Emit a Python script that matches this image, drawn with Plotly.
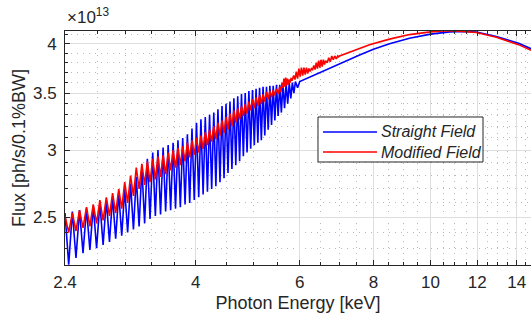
import math
import plotly.graph_objects as go

# ---------------- axis ticks ----------------
x_tick_vals = [2.4, 4, 6, 8, 10, 12, 14]
x_tick_text = ["2.4", "4", "6", "8", "10", "12", "14"]
x_minor_vals = [2.72, 3.04, 3.36, 3.68, 4.5, 5, 5.5, 6.5, 7, 7.5, 8.5, 9, 9.5,
                10.5, 11, 11.5, 12.5, 13, 13.5, 14.5]
y_tick_vals = [2.5, 3, 3.5, 4]
y_tick_text = ["2.5", "3", "3.5", "4"]
y_minor_vals = [2.2, 2.3, 2.4, 2.6, 2.7, 2.8, 2.9, 3.1, 3.2, 3.3, 3.4,
                3.6, 3.7, 3.8, 3.9, 4.1]

# ---------------- Straight Field (blue), flux in 1e13 ph/s/0.1%BW ----------------
blue_tooth_kev = [2.40, 2.47, 2.54, 2.61, 2.68, 2.75, 2.82, 2.89, 2.96, 3.03,
                  3.10, 3.17, 3.24, 3.31, 3.38, 3.45, 3.52, 3.59, 3.66, 3.73,
                  3.80, 3.87, 3.94, 4.01, 4.08, 4.15, 4.22, 4.29, 4.36, 4.43,
                  4.50, 4.57, 4.64, 4.71, 4.78, 4.85, 4.92, 4.99, 5.06, 5.13,
                  5.20, 5.27, 5.34, 5.41, 5.48, 5.55, 5.62, 5.69, 5.76, 5.83, 5.90]
blue_tooth_top = [2.53, 2.54, 2.55, 2.56, 2.58, 2.60, 2.62, 2.64, 2.67, 2.70,
                  2.74, 2.79, 2.86, 2.93, 2.98, 3.00, 3.02, 3.04, 3.06, 3.08,
                  3.10, 3.13, 3.18, 3.23, 3.26, 3.28, 3.30, 3.32, 3.35, 3.38,
                  3.40, 3.42, 3.45, 3.47, 3.49, 3.50, 3.52, 3.53, 3.54, 3.55,
                  3.56, 3.56, 3.57, 3.57, 3.58, 3.58, 3.59, 3.59, 3.60, 3.60, 3.61]
blue_tooth_bottom = [2.20, 2.24, 2.27, 2.29, 2.30, 2.32, 2.34, 2.36, 2.38, 2.40,
                     2.42, 2.44, 2.46, 2.49, 2.51, 2.52, 2.54, 2.55, 2.56, 2.57,
                     2.59, 2.60, 2.62, 2.64, 2.66, 2.68, 2.70, 2.72, 2.75, 2.78,
                     2.82, 2.85, 2.88, 2.91, 2.95, 2.98, 3.01, 3.04, 3.06, 3.08,
                     3.12, 3.17, 3.21, 3.25, 3.29, 3.32, 3.36, 3.40, 3.45, 3.50, 3.55]
blue_smooth_kev = [6.0, 6.49, 7.01, 7.58, 8.0, 8.52, 9.21, 9.6, 10.0, 10.77,
                   11.42, 11.96, 12.93, 14.1, 14.8]
blue_smooth_flux = [3.61, 3.70, 3.79, 3.88, 3.94, 4.00, 4.06, 4.085, 4.105, 4.13,
                    4.135, 4.128, 4.08, 4.005, 3.946]

# ---------------- Modified Field (red) ----------------
red_tooth_kev = [2.40, 2.47, 2.54, 2.61, 2.68, 2.75, 2.82, 2.89, 2.96, 3.03,
                 3.10, 3.17, 3.24, 3.31, 3.38, 3.45, 3.52, 3.59, 3.66, 3.73,
                 3.80, 3.87, 3.94, 4.01, 4.08, 4.15, 4.22, 4.29, 4.36, 4.43,
                 4.50, 4.57, 4.64, 4.71, 4.78, 4.85, 4.92, 4.99, 5.06, 5.13,
                 5.20, 5.27, 5.34, 5.41, 5.48, 5.55,
                 5.60, 5.64, 5.68, 5.72, 5.76, 5.80, 5.86, 5.92, 5.98, 6.04,
                 6.10, 6.16, 6.22, 6.28, 6.34, 6.40, 6.46, 6.52, 6.58, 6.64,
                 6.72, 6.80, 6.88, 6.96]
red_tooth_top = [2.51, 2.53, 2.55, 2.57, 2.59, 2.62, 2.64, 2.67, 2.70, 2.75,
                 2.80, 2.86, 2.89, 2.91, 2.93, 2.95, 2.96, 2.98, 3.00, 3.02,
                 3.03, 3.06, 3.08, 3.10, 3.12, 3.15, 3.17, 3.20, 3.23, 3.25,
                 3.28, 3.31, 3.34, 3.36, 3.38, 3.40, 3.42, 3.44, 3.46, 3.48,
                 3.49, 3.51, 3.52, 3.53, 3.54, 3.56,
                 3.60, 3.64, 3.65, 3.64, 3.63, 3.64, 3.67, 3.71, 3.74, 3.75,
                 3.75, 3.75, 3.74, 3.74, 3.77, 3.80, 3.82, 3.83, 3.83, 3.82,
                 3.85, 3.87, 3.87, 3.87]
red_tooth_bottom = [2.40, 2.41, 2.43, 2.44, 2.46, 2.48, 2.51, 2.53, 2.56, 2.60,
                    2.65, 2.70, 2.73, 2.75, 2.77, 2.79, 2.81, 2.84, 2.86, 2.88,
                    2.91, 2.94, 2.96, 2.98, 3.01, 3.04, 3.07, 3.09, 3.12, 3.14,
                    3.17, 3.20, 3.23, 3.26, 3.29, 3.31, 3.34, 3.36, 3.38, 3.40,
                    3.42, 3.44, 3.46, 3.48, 3.49, 3.51,
                    3.55, 3.56, 3.57, 3.58, 3.60, 3.63, 3.63, 3.64, 3.66, 3.67,
                    3.68, 3.69, 3.71, 3.73, 3.73, 3.74, 3.75, 3.76, 3.78, 3.80,
                    3.81, 3.83, 3.84, 3.86]
red_smooth_kev = [7.01, 7.29, 7.58, 7.88, 8.52, 9.21, 10.0, 10.5, 11.0, 11.42,
                  11.96, 12.93, 14.1, 14.8]
red_smooth_flux = [3.87, 3.91, 3.95, 3.99, 4.05, 4.10, 4.13, 4.14, 4.14, 4.135,
                   4.124, 4.07, 3.99, 3.929]


def build_series(tooth_kev, top, bottom, smooth_kev, smooth_flux):
    xs, ys = [], []
    n = len(tooth_kev)
    for i in range(n):
        nxt = tooth_kev[i + 1] if i + 1 < n else smooth_kev[0]
        xs.append(tooth_kev[i]); ys.append(top[i])
        xs.append(0.5 * (tooth_kev[i] + nxt)); ys.append(bottom[i])
    xs += smooth_kev
    ys += smooth_flux
    return xs, ys


bx, by = build_series(blue_tooth_kev, blue_tooth_top, blue_tooth_bottom,
                      blue_smooth_kev, blue_smooth_flux)
rx, ry = build_series(red_tooth_kev, red_tooth_top, red_tooth_bottom,
                      red_smooth_kev, red_smooth_flux)

FONT = "Liberation Sans, Arial, Helvetica, sans-serif"
AX = "#262626"

fig = go.Figure()
fig.add_trace(go.Scatter(x=bx, y=by, mode="lines", name="Straight Field",
                         line=dict(color="rgb(0,0,255)", width=1.6), showlegend=False))
fig.add_trace(go.Scatter(x=rx, y=ry, mode="lines", name="Modified Field",
                         line=dict(color="rgb(255,0,0)", width=1.6), showlegend=False))

minor_common = dict(ticks="inside", ticklen=3, tickcolor=AX, showgrid=True,
                    gridcolor="#b8b8b8", gridwidth=1, griddash="1px,5px")

fig.update_xaxes(type="log", range=[math.log10(2.4), math.log10(14.8)],
                 tickmode="array", tickvals=x_tick_vals, ticktext=x_tick_text,
                 ticks="inside", ticklen=5, tickcolor=AX, tickwidth=1,
                 showline=True, linecolor=AX, linewidth=1, mirror="ticks",
                 showgrid=True, gridcolor="#dedede", gridwidth=1, zeroline=False,
                 minor=dict(tickvals=x_minor_vals, **minor_common),
                 tickfont=dict(family=FONT, size=17, color=AX),
                 ticklabelstandoff=2,
                 title=dict(text="Photon Energy [keV]", standoff=4,
                            font=dict(family=FONT, size=18, color=AX)))
fig.update_yaxes(type="log", range=[math.log10(2.198), math.log10(4.14)],
                 tickmode="array", tickvals=y_tick_vals, ticktext=y_tick_text,
                 ticks="inside", ticklen=5, tickcolor=AX, tickwidth=1,
                 showline=True, linecolor=AX, linewidth=1, mirror=False,
                 showgrid=True, gridcolor="#dedede", gridwidth=1, zeroline=False,
                 minor=dict(tickvals=y_minor_vals, **minor_common),
                 tickfont=dict(family=FONT, size=17, color=AX),
                 ticklabelstandoff=4,
                 title=dict(text="Flux [ph/s/0.1%BW]", standoff=2,
                            font=dict(family=FONT, size=18, color=AX)))

# legend box (paper coordinates)
fig.add_shape(type="rect", xref="paper", yref="paper", x0=0.5429, x1=0.897,
              y0=0.4402, y1=0.6325, line=dict(color=AX, width=1),
              fillcolor="white", layer="above")
fig.add_shape(type="line", xref="paper", yref="paper", x0=0.5536, x1=0.6695,
              y0=0.5684, y1=0.5684, line=dict(color="rgb(0,0,255)", width=1.3),
              layer="above")
fig.add_shape(type="line", xref="paper", yref="paper", x0=0.5536, x1=0.6695,
              y0=0.4829, y1=0.4829, line=dict(color="rgb(255,0,0)", width=1.3),
              layer="above")
fig.add_annotation(xref="paper", yref="paper", x=0.674, y=0.5684, xanchor="left",
                   yanchor="middle", showarrow=False, text="<i>Straight Field</i>",
                   font=dict(family=FONT, size=16, color=AX))
fig.add_annotation(xref="paper", yref="paper", x=0.674, y=0.4829, xanchor="left",
                   yanchor="middle", showarrow=False, text="<i>Modified Field</i>",
                   font=dict(family=FONT, size=16, color=AX))
# exponent label
fig.add_annotation(xref="paper", yref="paper", x=0, y=1, xanchor="left",
                   yanchor="bottom", showarrow=False, yshift=2,
                   text="×10<sup>13</sup>",
                   font=dict(family=FONT, size=17, color=AX))

fig.update_layout(width=531, height=325,
                  margin=dict(l=65, r=0, t=31, b=60, autoexpand=False),
                  paper_bgcolor="white", plot_bgcolor="white", showlegend=False)

fig.write_html("out.html", config={"displayModeBar": False},
               post_script="document.body.style.margin='0px';"
                           "document.body.style.padding='0px';"
                           "document.body.style.overflow='hidden';")
